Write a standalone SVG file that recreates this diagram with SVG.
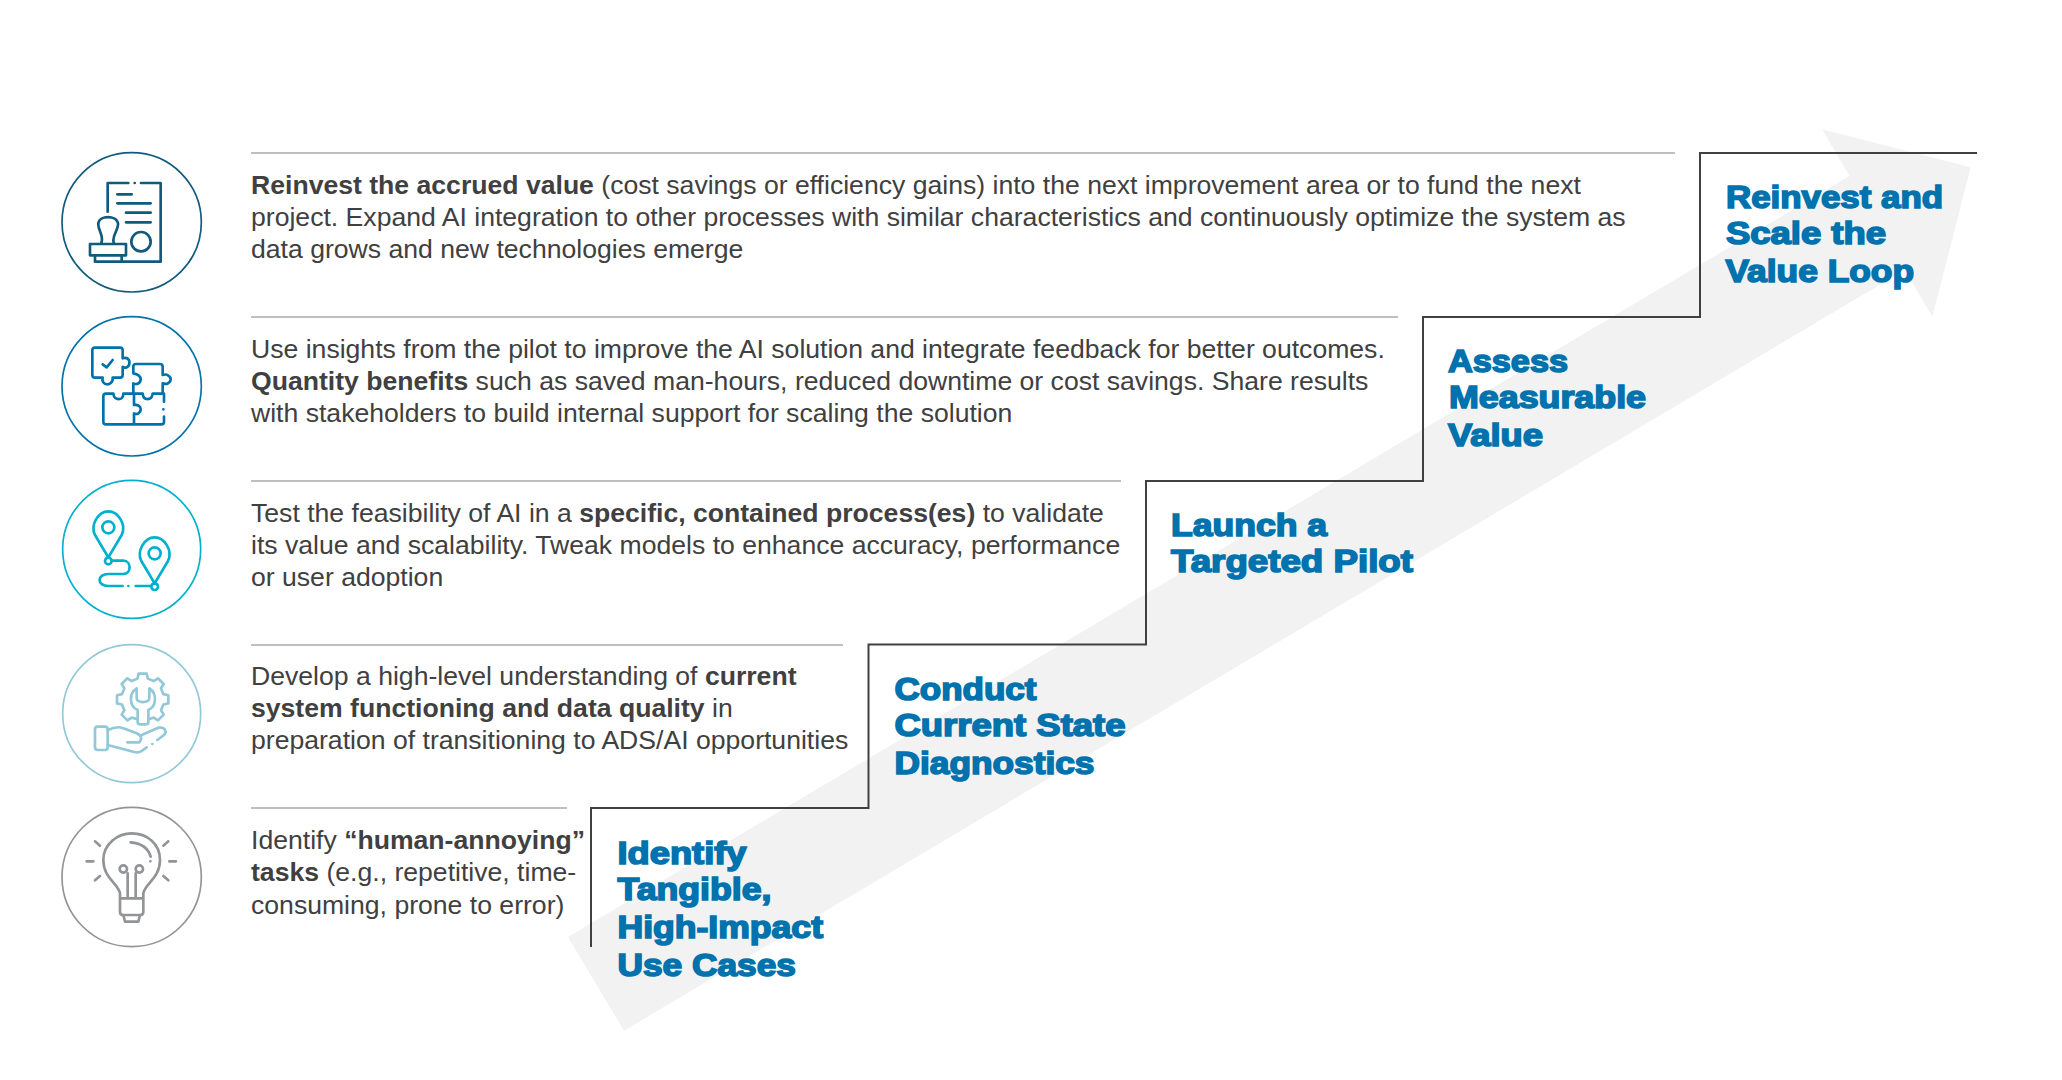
<svg xmlns="http://www.w3.org/2000/svg" width="2062" height="1080" viewBox="0 0 2062 1080">
<style>
.b{font-family:"Liberation Sans",Arial,sans-serif;font-size:26.6px;fill:#404040}
.b tspan{font-weight:700}
.t{font-family:"Liberation Sans",Arial,sans-serif;font-size:31px;font-weight:700;fill:#0072ad;stroke:#0072ad;stroke-width:1.6px}
.r{stroke:#bfbfbf;stroke-width:2;fill:none}
.i{fill:none;stroke-width:8;stroke-linecap:round;stroke-linejoin:round}
.c{fill:none;stroke-width:5}
</style>
<rect width="2062" height="1080" fill="#fff"/>
<polygon id="arrow" points="568,937 1849.5,176 1822,129.3 1970.7,167.3 1932.4,316.7 1904.7,270 624,1030.7" fill="#f2f2f2"/>
<g id="connectors" fill="none">
<path d="M591,947V808H868.5V644.5H1146V481H1423V317H1700V153H1977" stroke="#404040" stroke-width="2"/>
</g>
<g id="rules">
<path class="r" d="M251,153H1675M251,317H1398M251,481H1121M251,645H843M251,808H567"/>
</g>
<g id="node-reinvest">
<g transform="translate(40,140) scale(.33333)" stroke="#105a7c">
<circle class="c" cx="275" cy="247" r="209"/>
<path class="i" d="M203,215V129H265M303,129H362V365H245M284,129h.1M232,163H275M232,190H332M258,218H332M258,247H332"/>
<circle class="i" cx="303" cy="305" r="29"/>
<path class="i" d="M183,310C195,290 172,270 175,250C178,225 230,225 234,250C237,270 212,290 222,310M150,312H258V346H150ZM165,346V365H245V346"/>
</g>
<text class="b" x="251" y="194.300"><tspan>Reinvest the accrued value</tspan> (cost savings or efficiency gains) into the next improvement area or to fund the next</text>
<text class="b" x="251" y="226.300">project. Expand AI integration to other processes with similar characteristics and continuously optimize the system as</text>
<text class="b" x="251" y="258">data grows and new technologies emerge</text>
<text class="t" x="1726" y="208" textLength="217" lengthAdjust="spacingAndGlyphs">Reinvest and</text>
<text class="t" x="1726" y="244" textLength="160" lengthAdjust="spacingAndGlyphs">Scale the</text>
<text class="t" x="1725.500" y="281.700" textLength="188.500" lengthAdjust="spacingAndGlyphs">Value Loop</text>
</g>
<g id="node-assess">
<g transform="translate(40,305) scale(.33333)" stroke="#0072ab">
<circle class="c" cx="275" cy="244" r="209"/>
<path class="i" d="M157,136Q157,128 165,128H240Q248,128 248,136V160C262,155 270,165 268,175C268,187 255,190 248,186V210Q248,218 240,218H218C220,232 208,238 202,238C192,238 185,230 188,218H165Q157,218 157,210ZM188,178L200,187L218,165"/>
<path class="i" d="M280,205V185Q280,177 288,177H360Q368,177 368,185V210C382,205 392,215 392,223C392,233 380,240 368,235V266M280,205C295,208 302,215 302,223C302,235 290,240 280,235V266"/>
<path class="i" d="M282,266H250C250,288 222,288 220,266H198Q190,266 190,274V350Q190,358 198,358H364Q372,358 372,350V335M282,266H308C310,288 335,288 338,266H372V290M370,313h.1M282,266V300C295,298 302,305 302,313C302,325 290,330 282,325V358"/>
</g>
<text class="b" x="251" y="358.300">Use insights from the pilot to improve the AI solution and integrate feedback for better outcomes.</text>
<text class="b" x="251" y="390.300"><tspan>Quantity benefits</tspan> such as saved man-hours, reduced downtime or cost savings. Share results</text>
<text class="b" x="251" y="422.300">with stakeholders to build internal support for scaling the solution</text>
<text class="t" x="1448" y="371.700" textLength="120" lengthAdjust="spacingAndGlyphs">Assess</text>
<text class="t" x="1449" y="408" textLength="197" lengthAdjust="spacingAndGlyphs">Measurable</text>
<text class="t" x="1448" y="445.700" textLength="95" lengthAdjust="spacingAndGlyphs">Value</text>
</g>
<g id="node-pilot">
<g transform="translate(40,470) scale(.33333)" stroke="#00b0ce">
<circle class="c" cx="275" cy="238" r="207"/>
<path class="i" d="M205,262L165,195C150,165 175,124 205,124C235,124 260,165 245,195Z"/>
<circle class="i" cx="205" cy="172" r="18"/>
<circle class="i" cx="205" cy="273" r="10"/>
<path class="i" d="M215,272H250C275,272 275,312 250,312H205C170,312 170,348 205,348H248M265,348h.1M287,348H333"/>
<circle class="i" cx="344" cy="350" r="10"/>
<path class="i" d="M344,340L304,273C289,243 314,202 344,202C374,202 399,243 384,273Z"/>
<circle class="i" cx="344" cy="250" r="18"/>
</g>
<text class="b" x="251" y="521.700">Test the feasibility of AI in a <tspan>specific, contained process(es)</tspan> to validate</text>
<text class="b" x="251" y="553.700">its value and scalability. Tweak models to enhance accuracy, performance</text>
<text class="b" x="251" y="585.700">or user adoption</text>
<text class="t" x="1171" y="535.500" textLength="156" lengthAdjust="spacingAndGlyphs">Launch a</text>
<text class="t" x="1171" y="571.500" textLength="242" lengthAdjust="spacingAndGlyphs">Targeted Pilot</text>
</g>
<g id="node-diagnostics">
<g transform="translate(40,635) scale(.33333)" stroke="#92c8d8">
<circle class="c" cx="275" cy="236" r="207"/>
<path class="i" d="M293,253L275,247.900L262.200,256.100L244.900,238.800L253.100,226L245.900,208.500L231,205.200V180.800L245.900,177.500L253.100,160L244.900,147.200L262.200,129.900L275,138.100L292.500,130.900L295.800,116H320.200L323.500,130.900L341,138.100L353.800,129.900L371.100,147.200L362.900,160L370.100,177.500L385,180.800V205.200L370.100,208.500L362.900,226L371.100,238.800L353.800,256.100L341,247.900L325,253"/>
<path class="i" d="M290,160C265,175 268,215 293,225V262Q293,268 300,268H318Q325,268 325,262V225C350,215 352,175 328,160V190C328,205 290,205 290,190Z"/>
<rect class="i" x="165" y="275" width="38" height="70" rx="8"/>
<path class="i" d="M203,285C225,275 240,275 250,280L290,295Q312,305 298,322H262M305,300L355,278C375,275 382,290 372,300L352,315M337,327h.1M320,337L305,348Q295,355 280,350L203,330"/>
</g>
<text class="b" x="251" y="685.300">Develop a high-level understanding of <tspan>current</tspan></text>
<text class="b" x="251" y="717.300"><tspan>system functioning and data quality</tspan> in</text>
<text class="b" x="251" y="749.300">preparation of transitioning to ADS/AI opportunities</text>
<text class="t" x="894.500" y="699.700" textLength="142" lengthAdjust="spacingAndGlyphs">Conduct</text>
<text class="t" x="894.500" y="735.700" textLength="231" lengthAdjust="spacingAndGlyphs">Current State</text>
<text class="t" x="894.500" y="774" textLength="200" lengthAdjust="spacingAndGlyphs">Diagnostics</text>
</g>
<g id="node-identify">
<g transform="translate(40,800) scale(.33333)" stroke="#929497">
<circle class="c" cx="275" cy="231" r="209"/>
<path class="i" d="M240,295V280C235,250 190,235 190,180C190,130 235,100 275,100C320,100 360,130 360,180C360,235 315,250 310,280V295M240,295H310V335Q310,345 300,345H250Q240,345 240,335ZM250,345L255,365H295L300,345M263,295V220M287,295V220M272,127C305,130 325,145 332,170M331,184h.1M165,124L180,137M140,184H160M165,241L180,228M385,124L370,137M388,184H408M385,241L370,228"/>
<circle class="i" cx="250" cy="207" r="11"/>
<circle class="i" cx="298" cy="207" r="11"/>
</g>
<text class="b" x="251" y="849.300">Identify <tspan>“human-annoying”</tspan></text>
<text class="b" x="251" y="881"><tspan>tasks</tspan> (e.g., repetitive, time-</text>
<text class="b" x="251" y="913.500">consuming, prone to error)</text>
<text class="t" x="617.500" y="864.300" textLength="129" lengthAdjust="spacingAndGlyphs">Identify</text>
<text class="t" x="617.500" y="900.300" textLength="154" lengthAdjust="spacingAndGlyphs">Tangible,</text>
<text class="t" x="617.500" y="938" textLength="205.500" lengthAdjust="spacingAndGlyphs">High-Impact</text>
<text class="t" x="617.500" y="975.500" textLength="178.500" lengthAdjust="spacingAndGlyphs">Use Cases</text>
</g>
</svg>
